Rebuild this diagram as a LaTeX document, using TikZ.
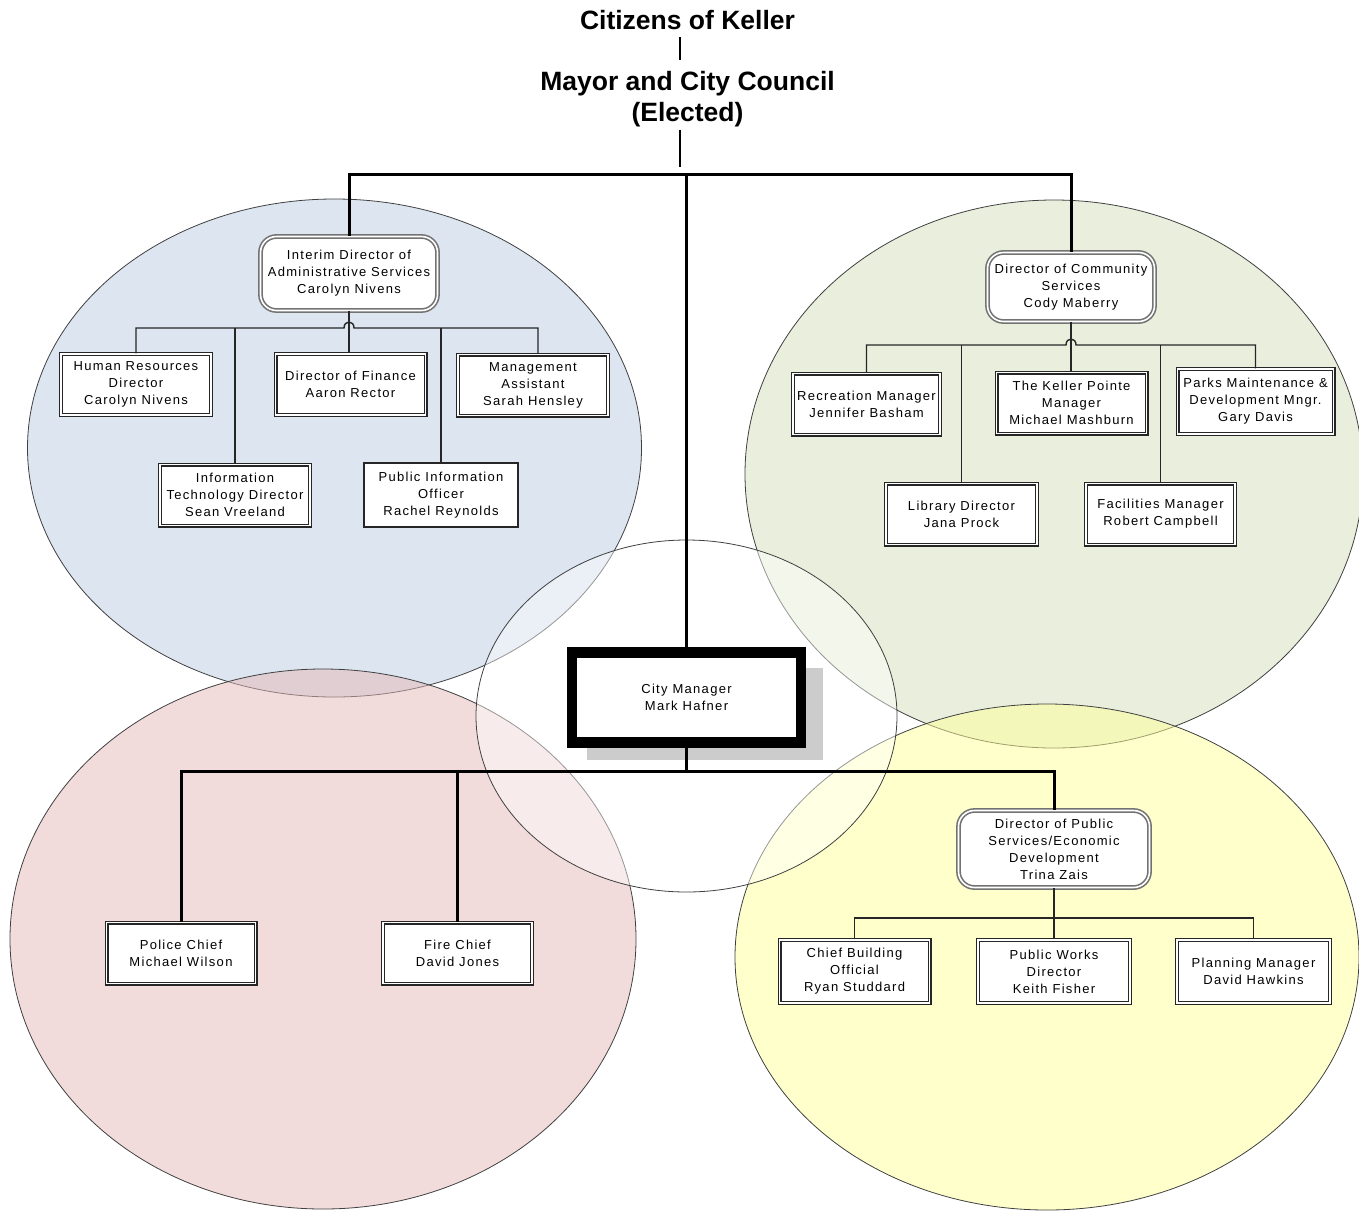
\documentclass[tikz,border=0pt]{standalone}
\usepackage{fontspec}
\setmainfont{Liberation Sans}
\newfontfamily\lblfont{Liberation Sans}[LetterSpace=10]
\usetikzlibrary{shadows,calc}
\definecolor{eblue}{HTML}{DCE5F0}
\definecolor{egreen}{HTML}{E9EFDC}
\definecolor{ered}{HTML}{E5B9B7}
\definecolor{eyel}{HTML}{FFFF99}
\begin{document}
\begin{tikzpicture}[x=1pt,y=-1pt,
 mainline/.style={line width=3pt,black},
 subline/.style={line width=1.4pt,black!85},
 ttlline/.style={line width=1.6pt,black},
 ttl/.style={font=\fontsize{26.5}{31}\selectfont\bfseries,inner sep=0pt,anchor=base},
 lbl/.style={font=\lblfont\fontsize{13}{17}\selectfont,align=center},
 cbox/.style={lbl,draw=black!85,double=white,line width=1.1pt,double distance=1.8pt,fill=white,minimum width=150pt,minimum height=61pt,inner sep=1pt},
 sbox/.style={lbl,draw=black!85,line width=1.3pt,fill=white,minimum width=154pt,minimum height=64pt,inner sep=1pt},
 dbox/.style={lbl,draw=black!55,double=white,line width=1.6pt,double distance=1.6pt,fill=white,rounded corners=16pt,inner sep=2pt},
 cmbox/.style={lbl,draw=black,line width=10.5pt,fill=white,minimum width=229pt,minimum height=90pt,drop shadow={shadow xshift=18pt,shadow yshift=-16pt,shadow scale=1.03,fill=black!20,opacity=1}},
 ell/.style={draw=black!75,line width=0.8pt}]
\useasboundingbox (0,0) rectangle (1359,1210);
% background ellipses
\path[ell,fill=eblue] (334.5,448) ellipse [x radius=307pt,y radius=249pt];
\path[ell,fill=egreen] (1054,474) ellipse [x radius=309pt,y radius=274pt];
\path[ell,fill=ered,fill opacity=0.5] (323,939) ellipse [x radius=313pt,y radius=270pt];
\path[ell,fill=eyel,fill opacity=0.5] (1047,957) ellipse [x radius=312pt,y radius=253pt];
\path[ell,fill=white,fill opacity=0.45] (686.5,716) ellipse [x radius=210.5pt,y radius=176pt];
% titles
\node[ttl] (cit) at (687.5,29) {Citizens of Keller};
\node[ttl] (mayor) at (687.5,90) {Mayor and City Council};
\node[ttl] (elect) at (687.5,121) {(Elected)};
\coordinate (mtop) at (680,167);
\coordinate (tb) at (686.5,174);
% administrative services
\node[dbox,minimum width=177pt,minimum height=74pt] (adm) at (349,273.5) {Interim Director of\\Administrative Services\\Carolyn Nivens};
\node[cbox] (hr) at (136,384.5) {Human Resources\\Director\\Carolyn Nivens};
\node[cbox] (fin) at (350.5,384.5) {Director of Finance\\Aaron Rector};
\node[cbox] (mgmt) at (533,385) {Management\\Assistant\\Sarah Hensley};
\node[cbox] (it) at (235,495) {Information\\Technology Director\\Sean Vreeland};
\node[sbox] (pio) at (441,495) {Public Information\\Officer\\Rachel Reynolds};
\coordinate (ab) at (349,328);
% community services
\node[dbox,minimum width=167pt,minimum height=69pt] (com) at (1071,287) {Director of Community\\Services\\Cody Maberry};
\node[cbox,minimum width=147pt] (rec) at (866.5,404) {Recreation Manager\\Jennifer Basham};
\node[cbox] (kp) at (1071.5,403) {The Keller Pointe\\Manager\\Michael Mashburn};
\node[cbox,minimum width=156pt,minimum height=65pt] (parks) at (1255.5,401.5) {Parks Maintenance \&\\Development Mngr.\\Gary Davis};
\node[cbox,minimum width=151pt] (lib) at (961.5,514) {Library Director\\Jana Prock};
\node[cbox,minimum width=149pt] (fac) at (1160.5,514) {Facilities Manager\\Robert Campbell};
\coordinate (cb) at (1071,345);
% city manager
\node[cmbox] (cm) at (686.5,697.5) {City Manager\\Mark Hafner};
\coordinate (mb) at (686.5,771);
\node[cbox,minimum width=149pt] (pol) at (181,953) {Police Chief\\Michael Wilson};
\node[cbox,minimum width=149pt] (fire) at (457.5,953) {Fire Chief\\David Jones};
% public services
\node[dbox,minimum width=191pt,minimum height=77pt] (ps) at (1054,849) {Director of Public\\Services/Economic\\Development\\Trina Zais};
\coordinate (pb) at (1054,918);
\node[cbox,minimum height=63pt] (cbo) at (854.5,971.5) {Chief Building\\Official\\Ryan Studdard};
\node[cbox,minimum height=63pt,minimum width=152pt] (pw) at (1054,971.5) {Public Works\\Director\\Keith Fisher};
\node[cbox,minimum height=63pt,minimum width=153pt] (pl) at (1253.5,971.5) {Planning Manager\\David Hawkins};
% title connectors
\draw[ttlline] ([xshift=-7.5pt,yshift=-8pt]cit.south) -- ([xshift=-7.5pt,yshift=10.5pt]mayor.north);
\draw[ttlline] ([xshift=-7.5pt,yshift=-3pt]elect.south) -- (mtop);
% main tree
\draw[mainline] (adm.north) |- (tb) -| (com.north);
\draw[mainline] (tb) -- (tb |- cm.north);
\draw[mainline] (cm.south) -- (mb);
\draw[mainline] (pol.north) |- (mb) -| (ps.north);
\draw[mainline] (fire.north) -- (fire.north |- mb);
% administrative bus
\draw[subline] (adm.south) -- (adm.south |- fin.north);
\draw[subline] (hr.north) |- ([xshift=-5pt]ab) .. controls ([xshift=-5pt,yshift=8pt]ab) and ([xshift=5pt,yshift=8pt]ab) .. ([xshift=5pt]ab) -| ([xshift=5pt]mgmt.north);
\draw[subline] (it.north) -- (it.north |- ab);
\draw[subline] (pio.north) -- (pio.north |- ab);
% community bus
\draw[subline] (com.south) -- (com.south |- kp.north);
\draw[subline] (rec.north) |- ([xshift=-5pt]cb) .. controls ([xshift=-5pt,yshift=8pt]cb) and ([xshift=5pt,yshift=8pt]cb) .. ([xshift=5pt]cb) -| (parks.north);
\draw[subline] (lib.north) -- (lib.north |- cb);
\draw[subline] (fac.north) -- (fac.north |- cb);
% public services bus
\draw[subline] (ps.south) -- (pw.north);
\draw[subline] (cbo.north) |- (pb) -| (pl.north);
\end{tikzpicture}
\end{document}
